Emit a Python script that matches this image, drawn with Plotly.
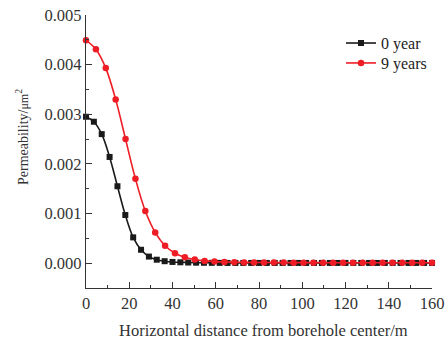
import numpy as np
import plotly.graph_objects as go

# Data
n_black = 45
x_black = list(np.linspace(0, 160, n_black))
y_black = [2.95e-3, 2.85e-3, 2.60e-3, 2.14e-3, 1.55e-3, 0.97e-3, 0.52e-3, 0.27e-3,
           0.133e-3, 0.07e-3, 0.04e-3, 0.025e-3, 0.018e-3, 0.013e-3, 0.010e-3,
           0.008e-3, 0.007e-3, 0.006e-3, 0.005e-3, 0.005e-3, 0.005e-3, 0.005e-3,
           0.005e-3, 0.005e-3, 0.005e-3, 0.005e-3, 0.005e-3, 0.005e-3, 0.005e-3,
           0.005e-3, 0.005e-3, 0.005e-3, 0.005e-3, 0.005e-3, 0.005e-3, 0.005e-3,
           0.005e-3, 0.005e-3, 0.005e-3, 0.005e-3, 0.005e-3, 0.005e-3, 0.005e-3,
           0.005e-3, 0.005e-3]

n_red = 36
x_red = list(np.linspace(0, 160, n_red))
y_red = [4.49e-3, 4.31e-3, 3.93e-3, 3.30e-3, 2.50e-3, 1.70e-3, 1.05e-3, 0.62e-3,
         0.35e-3, 0.20e-3, 0.12e-3, 0.073e-3, 0.046e-3, 0.032e-3, 0.024e-3,
         0.019e-3, 0.016e-3, 0.014e-3, 0.013e-3, 0.012e-3, 0.012e-3, 0.011e-3,
         0.011e-3, 0.011e-3, 0.010e-3, 0.010e-3, 0.010e-3, 0.010e-3, 0.010e-3,
         0.010e-3, 0.010e-3, 0.010e-3, 0.010e-3, 0.010e-3, 0.010e-3, 0.010e-3]

series_names = ["0 year", "9 years"]
x_ticks = [0, 20, 40, 60, 80, 100, 120, 140, 160]
y_ticks = [0.000, 0.001, 0.002, 0.003, 0.004, 0.005]
y_tick_labels = ["0.000", "0.001", "0.002", "0.003", "0.004", "0.005"]
x_title = "Horizontal distance from borehole center/m"
y_title = "Permeability/<span style='font-size:12px'>μm</span><sup>2</sup>"

FONT = "Liberation Serif, Times New Roman, serif"
AX = "#333333"

fig = go.Figure()
fig.add_trace(go.Scatter(
    x=x_black, y=y_black, name=series_names[0], mode="lines+markers",
    line=dict(color="#1a1a1a", width=1.6, shape="spline"),
    marker=dict(symbol="square", size=6, color="#1a1a1a"),
    cliponaxis=False, legend="legend",
))
fig.add_trace(go.Scatter(
    x=x_red, y=y_red, name=series_names[1], mode="lines+markers",
    line=dict(color="#ee1c24", width=1.6, shape="spline"),
    marker=dict(symbol="circle", size=6.5, color="#ee1c24"),
    cliponaxis=False, legend="legend2",
))

leg_common = dict(xanchor="left", yanchor="middle", bgcolor="rgba(0,0,0,0)",
                  font=dict(size=16, color="#222222"), itemwidth=30)
fig.update_layout(
    width=445, height=342,
    margin=dict(l=86, r=13, t=15, b=54),
    paper_bgcolor="white", plot_bgcolor="white",
    font=dict(family=FONT, size=16.5, color=AX),
    showlegend=True,
    legend=dict(x=0.737, y=0.897, **leg_common),
    legend2=dict(x=0.737, y=0.824, **leg_common),
    annotations=[
        dict(text=x_title, xref="paper", yref="paper", x=0.5116, y=-0.154,
             xanchor="center", yanchor="middle", showarrow=False,
             font=dict(size=16.5, color=AX)),
        dict(text=y_title, xref="paper", yref="paper", x=(22 - 86) / 346,
             y=(288 - 137) / 273, xanchor="center", yanchor="middle",
             textangle=-90, showarrow=False, font=dict(size=14, color=AX)),
    ],
)
fig.update_xaxes(
    range=[0, 160], tickvals=x_ticks, ticks="inside", ticklen=6, tickwidth=1,
    tickcolor=AX, showline=True, linecolor=AX, linewidth=1.2,
    showgrid=False, zeroline=False, automargin=False,
    minor=dict(ticks="inside", ticklen=3, dtick=10, tickcolor=AX, showgrid=False),
)
fig.update_yaxes(
    range=[-0.0005, 0.005], tickvals=y_ticks, ticktext=y_tick_labels,
    ticks="inside", ticklen=6, tickwidth=1,
    tickcolor=AX, showline=True, linecolor=AX, linewidth=1.2,
    showgrid=False, zeroline=False, automargin=False,
    minor=dict(ticks="inside", ticklen=3, dtick=0.0005, tickcolor=AX, showgrid=False),
)

fig.write_html("out.html")
